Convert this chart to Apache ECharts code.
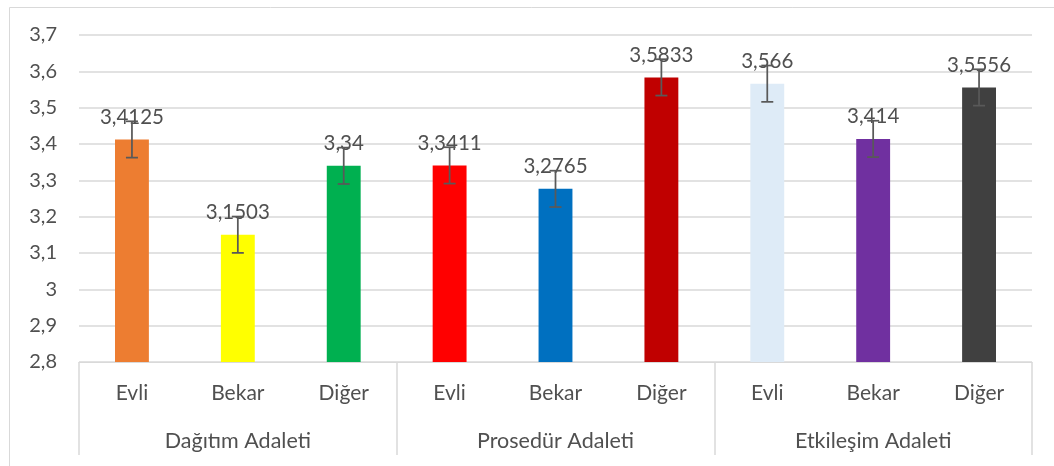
<!DOCTYPE html>
<html>
<head>
<meta charset="utf-8">
<script src="https://cdn.jsdelivr.net/npm/echarts@6/dist/echarts.min.js"></script>
<style>
  html, body { margin: 0; padding: 0; background: #fff; }
  #chart { width: 1054px; height: 466px; }
</style>
</head>
<body>
<div id="chart"></div>
<script>
// gruplar ve alt kategoriler
var groups = ['Dağıtım Adaleti', 'Prosedür Adaleti', 'Etkileşim Adaleti'];
var subCats = ['Evli', 'Bekar', 'Diğer', 'Evli', 'Bekar', 'Diğer', 'Evli', 'Bekar', 'Diğer'];
var values = [3.4125, 3.1503, 3.34, 3.3411, 3.2765, 3.5833, 3.566, 3.414, 3.5556];
var errors = [0.05, 0.05, 0.05, 0.05, 0.05, 0.05, 0.05, 0.05, 0.05];
var yTicks = [2.8, 2.9, 3, 3.1, 3.2, 3.3, 3.4, 3.5, 3.6, 3.7];

var barColors = ['#ED7D31', '#FFFF00', '#00B050', '#FF0000', '#0070C0', '#C00000', '#DEEBF7', '#7030A0', '#404040'];
var textColor = '#505050';
var lineColor = '#D9D9D9';
var font = 'Lato, "Open Sans", sans-serif';

function comma(v) {
    return String(v).replace('.', ',');
}

var barData = [];
for (var i = 0; i < values.length; i++) {
    barData.push({ value: values[i], itemStyle: { color: barColors[i] } });
}
var errData = [];
for (var j = 0; j < values.length; j++) {
    errData.push([j, values[j], errors[j]]);
}

var option = {
    animation: false,
    backgroundColor: '#fff',
    textStyle: { fontFamily: font },
    graphic: [{
        type: 'polyline',
        shape: { points: [[9.5, 466], [9.5, 7.5], [1054, 7.5]] },
        style: { stroke: lineColor, lineWidth: 1, fill: null }
    }],
    grid: { left: 79, right: 22, top: 35, bottom: 104 },
    xAxis: [{
        type: 'category',
        data: subCats,
        position: 'bottom',
        axisLine: { lineStyle: { color: lineColor, width: 1 } },
        axisTick: { show: false },
        axisLabel: { color: textColor, fontSize: 21, fontFamily: font, margin: 21, interval: 0 }
    }, {
        type: 'category',
        data: groups,
        position: 'bottom',
        axisLine: { show: false },
        axisTick: { show: true, length: 93, lineStyle: { color: lineColor, width: 1.5 } },
        axisLabel: { color: textColor, fontSize: 21.5, fontFamily: font, margin: 68, interval: 0 }
    }],
    yAxis: {
        type: 'value',
        min: yTicks[0],
        max: yTicks[yTicks.length - 1],
        interval: 0.1,
        axisLine: { show: false },
        axisTick: { show: false },
        splitLine: { lineStyle: { color: lineColor, width: 1.5 } },
        axisLabel: {
            color: textColor, fontSize: 20, fontFamily: font, margin: 22,
            formatter: function (v) { return comma(Math.round(v * 10) / 10); }
        }
    },
    series: [{
        type: 'bar',
        xAxisIndex: 0,
        data: barData,
        barWidth: '32%',
        label: {
            show: true,
            position: 'top',
            distance: 12,
            color: textColor,
            fontSize: 20.5,
            fontFamily: font,
            formatter: function (p) { return comma(p.value); }
        },
        z: 2
    }, {
        type: 'custom',
        xAxisIndex: 0,
        data: errData,
        z: 3,
        renderItem: function (params, api) {
            var idx = api.value(0);
            var v = api.value(1);
            var e = api.value(2);
            var hi = api.coord([idx, v + e]);
            var lo = api.coord([idx, v - e]);
            var half = 6;
            var st = { stroke: '#595959', lineWidth: 1.75 };
            return {
                type: 'group',
                children: [
                    { type: 'line', shape: { x1: hi[0], y1: hi[1], x2: lo[0], y2: lo[1] }, style: st },
                    { type: 'line', shape: { x1: hi[0] - half, y1: hi[1], x2: hi[0] + half, y2: hi[1] }, style: st },
                    { type: 'line', shape: { x1: lo[0] - half, y1: lo[1], x2: lo[0] + half, y2: lo[1] }, style: st }
                ]
            };
        }
    }]
};

var myChart = echarts.init(document.getElementById('chart'));
myChart.setOption(option);
</script>
</body>
</html>
